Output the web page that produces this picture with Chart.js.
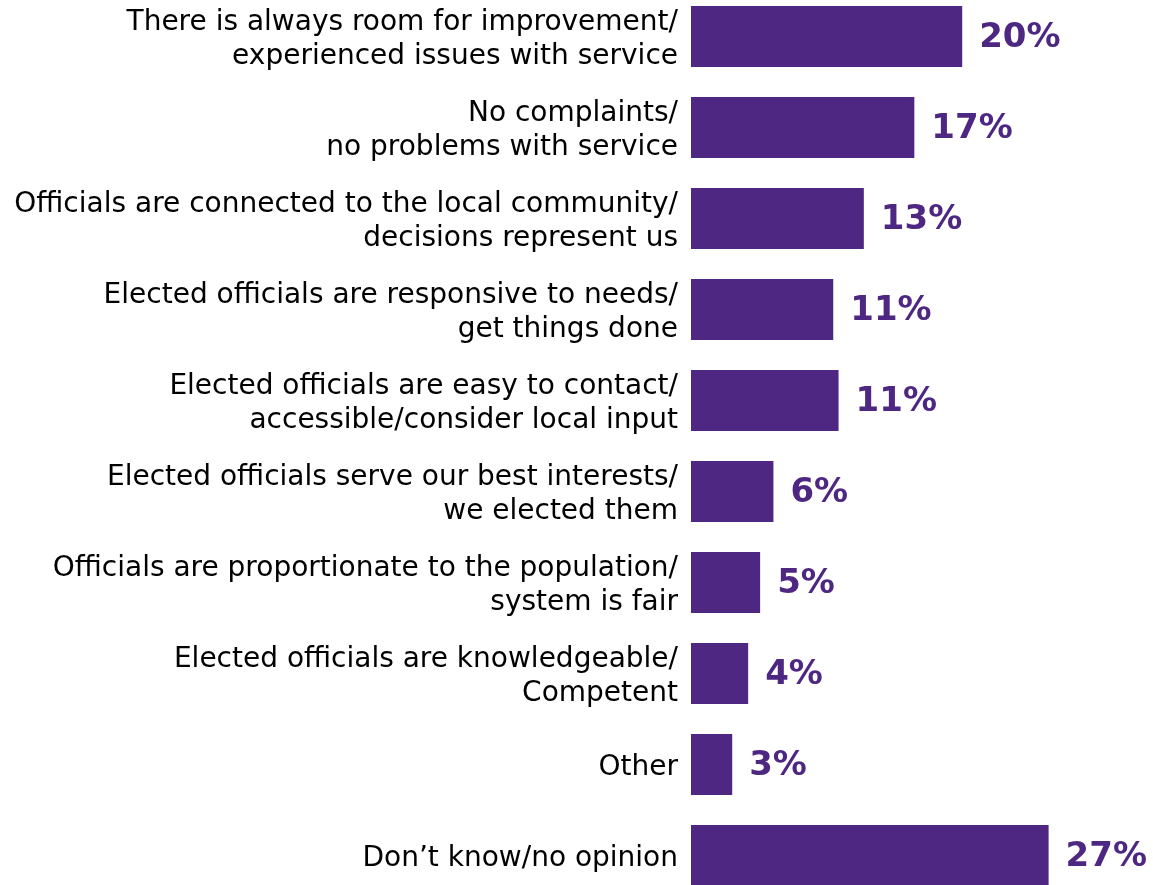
<!DOCTYPE html>
<html>
<head>
<meta charset="utf-8">
<script src="https://cdn.jsdelivr.net/npm/chart.js@4.4.1/dist/chart.umd.min.js"></script>
<style>
  html, body { margin: 0; padding: 0; background: #fff; }
  #caja { width: 1153px; height: 885px; position: relative; }
</style>
</head>
<body>
<div id="caja"><canvas id="grafico"></canvas></div>
<script>
// Categorías (cada una partida en líneas como en el original)
const categorias = [
  ["There is always room for improvement/", "experienced issues with service"],
  ["No complaints/", "no problems with service"],
  ["Officials are connected to the local community/", "decisions represent us"],
  ["Elected officials are responsive to needs/", "get things done"],
  ["Elected officials are easy to contact/", "accessible/consider local input"],
  ["Elected officials serve our best interests/", "we elected them"],
  ["Officials are proportionate to the population/", "system is fair"],
  ["Elected officials are knowledgeable/", "Competent"],
  "Other",
  "Don\u2019t know/no opinion"
];

// Porcentajes
const porcentajes = [20.4, 16.8, 13.0, 10.7, 11.1, 6.2, 5.2, 4.3, 3.1, 26.9];

const morado = "#4E2783";

// Etiquetas de valor al final de cada barra
const etiquetasValor = {
  id: "etiquetasValor",
  afterDatasetsDraw(chart) {
    const ctx = chart.ctx;
    const meta = chart.getDatasetMeta(0);
    ctx.save();
    ctx.font = "bold 34px 'DejaVu Sans'";
    ctx.fillStyle = morado;
    ctx.textAlign = "left";
    ctx.textBaseline = "middle";
    meta.data.forEach((barra, i) => {
      ctx.fillText(Math.round(porcentajes[i]) + "%", barra.x + 17, barra.y + 2);
    });
    ctx.restore();
  }
};

new Chart(document.getElementById("grafico"), {
  type: "bar",
  data: {
    labels: categorias,
    datasets: [{
      data: porcentajes,
      backgroundColor: morado,
      borderWidth: 0,
      barPercentage: 1,
      categoryPercentage: 0.67,
      clip: false
    }]
  },
  options: {
    indexAxis: "y",
    responsive: true,
    maintainAspectRatio: false,
    animation: false,
    layout: { padding: { top: 36.5, bottom: 29.5, left: 0, right: 10 } },
    plugins: {
      legend: { display: false },
      tooltip: { enabled: false }
    },
    scales: {
      x: { display: false, min: 0, max: 34 },
      y: {
        offset: false,
        grid: { display: false, drawTicks: false },
        border: { display: false },
        afterFit: (escala) => {
          escala.width = 691;
          // sin relleno extra por las etiquetas de los extremos
          escala.paddingTop = 0;
          escala.paddingBottom = 0;
        },
        ticks: {
          autoSkip: false,
          padding: 13,
          labelOffset: 3,
          color: "#000",
          font: { family: "'DejaVu Sans'", size: 28, lineHeight: 1.22 }
        }
      }
    }
  },
  plugins: [etiquetasValor]
});
</script>
</body>
</html>
